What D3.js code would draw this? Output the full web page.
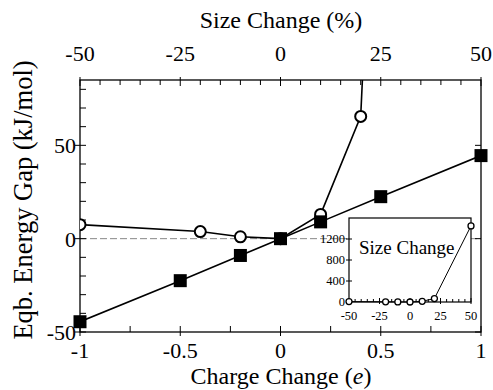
<!DOCTYPE html>
<html>
<head>
<meta charset="utf-8">
<script src="https://cdn.jsdelivr.net/npm/d3@7"></script>
<style>
  body { margin: 0; background: #fff; }
</style>
</head>
<body>
<div id="chart"></div>
<script>
// charge change series (bottom axis, filled squares)
const chargeX = [-1, -0.5, -0.2, 0, 0.2, 0.5, 1];
const chargeY = [-44.5, -22.5, -9, 0, 9, 22.5, 44.5];
// size change series (top axis, open circles)
const sizeX = [-50, -20, -10, 0, 10, 20, 50];
const sizeY = [7.5, 3.8, 1, 0, 13, 65.5, 1450];

const bottomTicks = [-1, -0.5, 0, 0.5, 1];
const topTicks = [-50, -25, 0, 25, 50];
const leftTicks = [-50, 0, 50];
const insetYTicks = [0, 400, 800, 1200];
const insetXTicks = [-50, -25, 0, 25, 50];

const W = 493, H = 390;
const m = { left: 80, right: 481, top: 80, bottom: 332 };
const serif = "'Liberation Serif', 'Times New Roman', Times, 'DejaVu Serif', serif";

const svg = d3.select("#chart").append("svg")
  .attr("width", W).attr("height", H)
  .attr("font-family", serif);

const x = d3.scaleLinear().domain([-1, 1]).range([m.left, m.right]);
const xTop = d3.scaleLinear().domain([-50, 50]).range([m.left, m.right]);
const y = d3.scaleLinear().domain([-50, 85]).range([m.bottom, m.top]);

// clip for the main plot
svg.append("clipPath").attr("id", "clip")
  .append("rect")
  .attr("x", m.left).attr("y", m.top)
  .attr("width", m.right - m.left).attr("height", m.bottom - m.top);

// zero line
svg.append("line")
  .attr("x1", m.left).attr("x2", m.right)
  .attr("y1", y(0)).attr("y2", y(0))
  .attr("stroke", "#888").attr("stroke-width", 1)
  .attr("stroke-dasharray", "7,3");

// frame
svg.append("rect")
  .attr("x", m.left).attr("y", m.top)
  .attr("width", m.right - m.left).attr("height", m.bottom - m.top)
  .attr("fill", "none").attr("stroke", "#000").attr("stroke-width", 1.3);

const ax = svg.append("g").attr("stroke", "#000").attr("stroke-width", 1);

// bottom ticks, every 0.25
d3.range(-1, 1.001, 0.25).forEach(v => {
  const major = bottomTicks.some(t => Math.abs(t - v) < 1e-6);
  ax.append("line").attr("x1", x(v)).attr("x2", x(v))
    .attr("y1", m.bottom - 6).attr("y2", m.bottom + (major ? 4 : 0));
});
// top ticks, every 5
d3.range(-50, 50.001, 5).forEach(v => {
  const major = topTicks.includes(v);
  ax.append("line").attr("x1", xTop(v)).attr("x2", xTop(v))
    .attr("y1", m.top + (major ? 6 : 5)).attr("y2", m.top - (major ? 3 : 0));
});
// left ticks, every 10
d3.range(-50, 81, 10).forEach(v => {
  const major = leftTicks.includes(v);
  ax.append("line").attr("x1", m.left - (major ? 5 : 0)).attr("x2", m.left + 6)
    .attr("y1", y(v)).attr("y2", y(v));
});
// right ticks
leftTicks.forEach(v => {
  ax.append("line").attr("x1", m.right - 6).attr("x2", m.right)
    .attr("y1", y(v)).attr("y2", y(v));
});

// tick labels
svg.append("g").selectAll("text").data(bottomTicks).join("text")
  .attr("x", d => x(d)).attr("y", 358)
  .attr("text-anchor", "middle").attr("font-size", 22)
  .text(d => d);
svg.append("g").selectAll("text").data(topTicks).join("text")
  .attr("x", d => xTop(d)).attr("y", 61)
  .attr("text-anchor", "middle").attr("font-size", 22)
  .text(d => d);
svg.append("g").selectAll("text").data(leftTicks).join("text")
  .attr("x", m.left - 4).attr("y", d => y(d) + 8)
  .attr("text-anchor", "end").attr("font-size", 22)
  .text(d => d);

// axis titles
svg.append("text").attr("x", 281).attr("y", 28)
  .attr("text-anchor", "middle").attr("font-size", 24)
  .text("Size Change (%)");
const bt = svg.append("text").attr("x", 281).attr("y", 384)
  .attr("text-anchor", "middle").attr("font-size", 24);
bt.append("tspan").text("Charge Change (");
bt.append("tspan").attr("font-style", "italic").text("e");
bt.append("tspan").text(")");
svg.append("text")
  .attr("transform", "translate(32,200) rotate(-90)")
  .attr("text-anchor", "middle").attr("font-size", 26.5)
  .text("Eqb. Energy Gap (kJ/mol)");

// data
const plot = svg.append("g").attr("clip-path", "url(#clip)");
const sizePts = sizeX.map((v, i) => [v, sizeY[i]]);
const chargePts = chargeX.map((v, i) => [v, chargeY[i]]);

plot.append("path")
  .attr("d", d3.line().x(d => xTop(d[0])).y(d => y(d[1]))(sizePts))
  .attr("fill", "none").attr("stroke", "#000").attr("stroke-width", 1.6);
plot.append("path")
  .attr("d", d3.line().x(d => x(d[0])).y(d => y(d[1]))(chargePts))
  .attr("fill", "none").attr("stroke", "#000").attr("stroke-width", 1.6);

plot.selectAll("circle.s").data(sizePts.filter(d => d[1] <= 85)).join("circle")
  .attr("cx", d => xTop(d[0])).attr("cy", d => y(d[1])).attr("r", 5.5)
  .attr("fill", "#fff").attr("stroke", "#000").attr("stroke-width", 2);
svg.selectAll("rect.q").data(chargePts).join("rect")
  .attr("x", d => x(d[0]) - 6.5).attr("y", d => y(d[1]) - 6.5)
  .attr("width", 13).attr("height", 13).attr("fill", "#000");

// inset
const ix = d3.scaleLinear().domain([-50, 50]).range([349, 471]);
const iy = d3.scaleLinear().domain([0, 1600]).range([302, 218]);
const inset = svg.append("g");
inset.append("rect")
  .attr("x", 349).attr("y", 218).attr("width", 122).attr("height", 84)
  .attr("fill", "#fff").attr("stroke", "#000").attr("stroke-width", 1.2);
d3.range(-50, 50.001, 5).forEach(v => {
  const major = insetXTicks.includes(v);
  inset.append("line").attr("x1", ix(v)).attr("x2", ix(v))
    .attr("y1", iy(0) - (major ? 4 : 3)).attr("y2", iy(0) + (major ? 2 : 0))
    .attr("stroke", "#000");
});
insetYTicks.forEach(v => {
  inset.append("line").attr("x1", 349 - 3).attr("x2", 349 + 3)
    .attr("y1", iy(v)).attr("y2", iy(v)).attr("stroke", "#000");
});
inset.selectAll("text.xt").data(insetXTicks).join("text")
  .attr("x", d => ix(d)).attr("y", 320)
  .attr("text-anchor", "middle").attr("font-size", 12.5)
  .text(d => d);
inset.selectAll("text.yt").data(insetYTicks).join("text")
  .attr("x", 345).attr("y", d => iy(d) + 4)
  .attr("text-anchor", "end").attr("font-size", 12.5)
  .text(d => d);
inset.append("text").attr("x", 359).attr("y", 254)
  .attr("font-size", 19).text("Size Change");
inset.append("path")
  .attr("d", d3.line().x(d => ix(d[0])).y(d => iy(d[1]))(sizePts))
  .attr("fill", "none").attr("stroke", "#000").attr("stroke-width", 1);
inset.selectAll("circle").data(sizePts).join("circle")
  .attr("cx", d => ix(d[0])).attr("cy", d => iy(d[1])).attr("r", 3)
  .attr("fill", "#fff").attr("stroke", "#000").attr("stroke-width", 1.3);
</script>
</body>
</html>
